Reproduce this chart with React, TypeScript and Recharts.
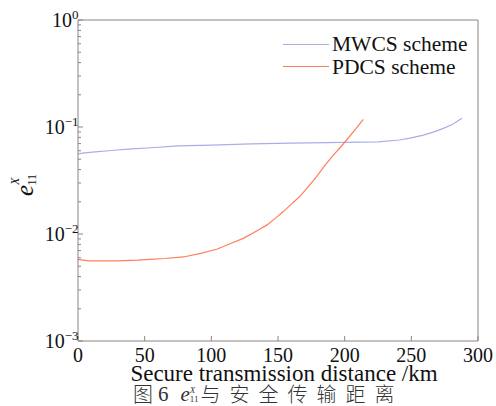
import { LineChart, Line, XAxis, YAxis, Legend, ReferenceLine } from "recharts";

// MWCS scheme — error rate vs. secure transmission distance
const mwcsKm = [0, 5, 15, 25, 40, 55, 75, 100, 130, 160, 200, 225, 241, 250, 259, 267, 274, 281, 288];
const mwcsErr = [
	0.056, 0.0572, 0.0588, 0.0603, 0.0625, 0.064, 0.0665, 0.0678, 0.0695, 0.0708, 0.0718, 0.0725, 0.0756, 0.079,
	0.084, 0.09, 0.097, 0.106, 0.121,
];

// PDCS scheme
const pdcsKm = [
	0, 8, 30, 45, 54, 65, 79, 92, 104, 114, 124, 133, 141.5, 148, 154, 160, 166.5, 173, 179, 185, 191.5, 196.5, 201.5,
	208, 214,
];
const pdcsErr = [
	0.0058, 0.0056, 0.0056, 0.0057, 0.0058, 0.0059, 0.0061, 0.0066, 0.0072, 0.0081, 0.0091, 0.0105, 0.0121, 0.014,
	0.0162, 0.019, 0.0225, 0.028, 0.0344, 0.0435, 0.0547, 0.064, 0.0756, 0.095, 0.118,
];

const xTicks = [0, 50, 100, 150, 200, 250, 300];
const yDecades = [-3, -2, -1];

const mwcsData = mwcsKm.map((km, i) => ({ km, err: mwcsErr[i] }));
const pdcsData = pdcsKm.map((km, i) => ({ km, err: pdcsErr[i] }));

// major + minor ticks for the log axis
const yTicks: number[] = [];
for (const e of yDecades) for (let m = 1; m <= 9; m++) yTicks.push(Number((m * 10 ** e).toPrecision(3)));
yTicks.push(1);

const AXIS = "#8c8484";
const MWCS = "#a9aee6";
const PDCS = "#ff7d5a";
const SERIF = "Liberation Serif";
const CJK = "Noto Sans CJK SC, sans-serif";

function XTick({ x, y, payload }: any) {
	return (
		<g>
			<line x1={x} x2={x} y1={y} y2={y - 5} stroke={AXIS} />
			<text x={x} y={y + 21} textAnchor="middle" fontFamily={SERIF} fontSize={20} fill="#111">
				{payload.value}
			</text>
		</g>
	);
}

function YTick({ x, y, payload }: any) {
	const lg = Math.log10(payload.value);
	const exp = Math.round(lg);
	const major = Math.abs(lg - exp) < 1e-6;
	return (
		<g>
			<line x1={x} x2={x + (major ? 5 : 3)} y1={y} y2={y} stroke={AXIS} />
			{major && (
				<text x={x + 0.5} y={y + 7} textAnchor="end" fontFamily={SERIF} fontSize={20} fill="#111">
					10
					<tspan dy={-8} fontSize={13}>
						{exp === 0 ? "0" : `−${-exp}`}
					</tspan>
				</text>
			)}
		</g>
	);
}

function YLabel() {
	return (
		<text transform="translate(33,196) rotate(-90)" fontFamily={SERIF} fill="#111">
			<tspan fontSize={25} fontStyle="italic">
				e
			</tspan>
			<tspan dy={-14} fontSize={12} fontStyle="italic">
				X
			</tspan>
			<tspan dx={-8} dy={17} fontSize={12}>
				11
			</tspan>
		</text>
	);
}

function XLabel({ viewBox }: any) {
	return (
		<text x={viewBox.x + viewBox.width / 2 + 6} y={381} textAnchor="middle" fontFamily={SERIF} fontSize={23} fill="#111">
			Secure transmission distance /km
		</text>
	);
}

function LegendBox({ payload }: any) {
	return (
		<div style={{ fontFamily: SERIF, fontSize: 21.5, color: "#111" }}>
			{payload.map((p: any) => (
				<div key={p.value} style={{ display: "flex", alignItems: "center", height: 22.5 }}>
					<span style={{ width: 46, borderTop: `1.2px solid ${p.color}`, marginRight: 3 }} />
					<span style={{ lineHeight: "22px" }}>{p.value}</span>
				</div>
			))}
		</div>
	);
}

export default function App() {
	return (
		<div style={{ position: "absolute", left: 0, top: 0, width: 496, height: 406, background: "#fff" }}>
			<LineChart width={496} height={406} margin={{ top: 20, right: 18, left: 0, bottom: 0 }}>
				<XAxis
					dataKey="km"
					type="number"
					domain={[0, 300]}
					ticks={xTicks}
					interval={0}
					height={65}
					tickSize={0}
					tickMargin={0}
					tick={<XTick />}
					axisLine={{ stroke: AXIS }}
					label={XLabel}
					allowDuplicatedCategory={false}
				/>
				<YAxis
					type="number"
					scale="log"
					domain={[0.001, 1]}
					ticks={yTicks}
					interval={0}
					width={78}
					tickSize={0}
					tickMargin={0}
					tick={<YTick />}
					axisLine={{ stroke: AXIS }}
					allowDataOverflow
					label={YLabel}
				/>
				<ReferenceLine y={1} stroke={AXIS} />
				<ReferenceLine x={300} stroke={AXIS} />
				<Legend
					layout="vertical"
					align="center"
					verticalAlign="middle"
					content={LegendBox}
					wrapperStyle={{ left: 283, top: 33, width: 200 }}
				/>
				<Line
					data={mwcsData}
					dataKey="err"
					name="MWCS scheme"
					stroke={MWCS}
					strokeWidth={1.2}
					dot={false}
					type="linear"
					isAnimationActive={false}
				/>
				<Line
					data={pdcsData}
					dataKey="err"
					name="PDCS scheme"
					stroke={PDCS}
					strokeWidth={1.2}
					dot={false}
					type="linear"
					isAnimationActive={false}
				/>
			</LineChart>
			<div
				style={{
					position: "absolute",
					left: 133,
					top: 383,
					height: 22,
					display: "flex",
					alignItems: "flex-end",
					color: "#333",
					whiteSpace: "nowrap",
				}}
			>
				<span style={{ fontFamily: CJK, fontSize: 20, lineHeight: "22px", fontWeight: 300 }}>图</span>
				<span style={{ fontFamily: SERIF, fontSize: 21, lineHeight: "22px", marginLeft: 5 }}>6</span>
				<span style={{ fontFamily: SERIF, fontSize: 21, lineHeight: "22px", marginLeft: 12, fontStyle: "italic" }}>
					e
				</span>
				<span
					style={{
						display: "inline-flex",
						flexDirection: "column",
						fontFamily: SERIF,
						fontSize: 9,
						lineHeight: "9px",
						marginBottom: 1,
					}}
				>
					<span style={{ fontStyle: "italic" }}>X</span>
					<span>11</span>
				</span>
				<span
					style={{
						fontFamily: CJK,
						fontSize: 20,
						lineHeight: "22px",
						letterSpacing: 9,
						marginLeft: 2,
						fontWeight: 300,
					}}
				>
					与安全传输距离
				</span>
			</div>
		</div>
	);
}
